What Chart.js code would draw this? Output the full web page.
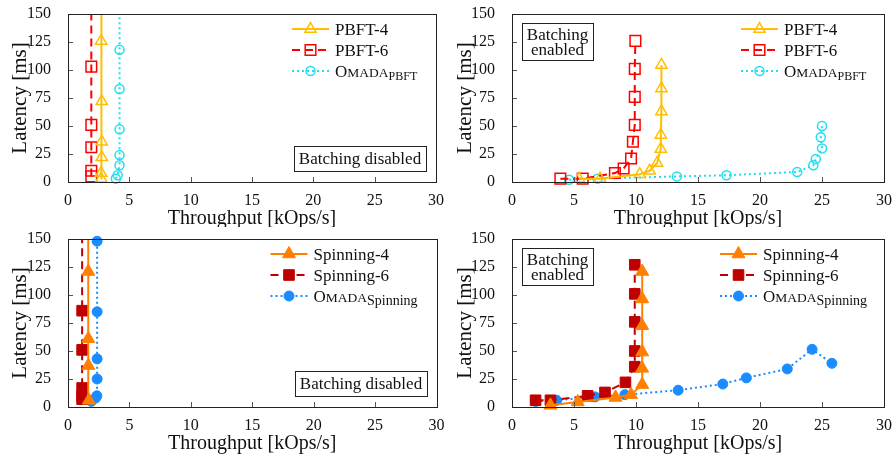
<!DOCTYPE html>
<html>
<head>
<meta charset="utf-8">
<script src="https://cdn.jsdelivr.net/npm/chart.js@4.4.1/dist/chart.umd.min.js"></script>
<style>
  html, body { margin: 0; padding: 0; background: #fff; }
  #wrap { position: relative; width: 895px; height: 455px; }
  .panel { position: absolute; }
</style>
</head>
<body>
<div id="wrap">
  <div class="panel" style="left:0;top:0;width:445px;height:227px"><canvas id="c1"></canvas></div>
  <div class="panel" style="left:445px;top:0;width:450px;height:227px"><canvas id="c2"></canvas></div>
  <div class="panel" style="left:0;top:227px;width:445px;height:228px"><canvas id="c3"></canvas></div>
  <div class="panel" style="left:445px;top:227px;width:450px;height:228px"><canvas id="c4"></canvas></div>
</div>
<script>
// ── DATA (throughput in kOps/s, latency in ms) ─────────────────────
const xTicks = [0, 5, 10, 15, 20, 25, 30];
const yTicks = [0, 25, 50, 75, 100, 125, 150];

// PBFT, batching disabled
const pbft4OffX  = [2.7, 2.7, 2.75, 2.75, 2.75, 2.7, 2.7];
const pbft4OffY  = [3, 8, 22, 36, 72, 126, 175];
const pbft6OffX  = [1.9, 1.9, 1.9, 1.9, 1.9, 1.9];
const pbft6OffY  = [5, 10, 31, 51, 103, 175];
const omadaPOffX = [3.9, 4.05, 4.2, 4.2, 4.2, 4.2, 4.2, 4.2];
const omadaPOffY = [3, 6, 15, 24, 47, 83, 118, 175];

// PBFT, batching enabled
const pbft4OnX  = [5.4, 7.1, 10.3, 11.1, 11.7, 12.0, 12.0, 12.05, 12.05, 12.05];
const pbft4OnY  = [3, 3, 7, 10, 17, 29.5, 42, 63, 83.5, 104.5];
const pbft6OnX  = [3.9, 5.7, 8.3, 9.0, 9.6, 9.75, 9.9, 9.9, 9.9, 9.95];
const pbft6OnY  = [3, 3, 8, 12, 21, 36, 51, 76, 101, 126];
const omadaPOnX = [4.6, 6.9, 13.3, 17.3, 23.0, 24.3, 24.5, 25.0, 24.9, 25.0];
const omadaPOnY = [2, 3, 5, 6, 9, 15, 20.5, 30, 40, 50];

// Spinning, batching disabled
const spin4OffX  = [1.7, 1.65, 1.65, 1.65, 1.65];
const spin4OffY  = [6, 37, 61, 121, 175];
const spin6OffX  = [1.15, 1.15, 1.15, 1.15, 1.15, 1.15];
const spin6OffY  = [7, 10, 17, 51, 86, 175];
const omadaSOffX = [1.9, 2.25, 2.35, 2.37, 2.37, 2.37, 2.37];
const omadaSOffY = [5, 8, 10, 25, 43, 85, 148];

// Spinning, batching enabled
const spin4OnX  = [3.1, 5.3, 8.35, 9.6, 10.5, 10.5, 10.5, 10.5, 10.5, 10.5];
const spin4OnY  = [1.5, 4.5, 8.5, 11, 20, 34.5, 49, 72.5, 96.5, 121];
const spin6OnX  = [1.9, 3.1, 6.1, 7.5, 9.15, 9.9, 9.9, 9.9, 9.9, 9.9];
const spin6OnY  = [6, 6, 10, 13, 22, 36, 50, 76, 101, 127];
const omadaSOnX = [1.9, 3.6, 6.7, 9.1, 13.4, 17.0, 18.9, 22.2, 24.2, 25.8];
const omadaSOnY = [5, 6, 9, 11, 15, 20.5, 26, 34, 51.5, 39];

// ── STYLES ─────────────────────────────────────────────────────────
const serif = '"Liberation Serif", "Times New Roman", serif';
const ink   = '#111';

const stPbft4  = { color: '#ffbf00', dash: [],     shape: 'triangle', r: 6.5, fill: false };
const stPbft6  = { color: '#ff0000', dash: [8, 5], shape: 'rect',     r: 7.5, fill: false };
const stOmadaP = { color: '#1ee0f0', dash: [2, 3], shape: 'circle',   r: 4.5, fill: false };
const stSpin4  = { color: '#ff8000', dash: [],     shape: 'triangle', r: 7.5, fill: true  };
const stSpin6  = { color: '#c00000', dash: [8, 5], shape: 'rect',     r: 7.5, fill: true  };
const stOmadaS = { color: '#1a8cff', dash: [2, 3], shape: 'circle',   r: 5,   fill: true  };

// ── DECORATION PLUGIN: frame, inner ticks, note box, legend ─────────
function drawLabel(ctx, it, x, base) {
  ctx.fillStyle = ink;
  ctx.textAlign = 'left';
  ctx.textBaseline = 'alphabetic';
  if (!it.sub) { ctx.font = `17px ${serif}`; ctx.fillText(it.text, x, base); return; }
  ctx.font = `17px ${serif}`;   ctx.fillText('O', x, base);    x += ctx.measureText('O').width;
  ctx.font = `13.5px ${serif}`; ctx.fillText('MADA', x, base); x += ctx.measureText('MADA').width;
  ctx.font = `${it.subSize}px ${serif}`; ctx.fillText(it.sub, x, base + 3);
}

const deco = {
  id: 'deco',
  afterDraw(chart, args, o) {
    const ctx = chart.ctx, a = chart.chartArea;
    const xs = chart.scales.x, ys = chart.scales.y;
    ctx.save();

    // inward tick marks
    ctx.strokeStyle = '#555';
    ctx.lineWidth = 1;
    ctx.beginPath();
    xTicks.slice(1, -1).forEach(v => {
      const px = Math.round(xs.getPixelForValue(v)) + 0.5;
      ctx.moveTo(px, a.bottom); ctx.lineTo(px, a.bottom - 5);
    });
    yTicks.slice(1, -1).forEach(v => {
      const py = Math.round(ys.getPixelForValue(v)) + 0.5;
      ctx.moveTo(a.left, py); ctx.lineTo(a.left + 5, py);
    });
    ctx.stroke();

    // frame around the plot
    ctx.strokeStyle = '#222';
    ctx.strokeRect(Math.round(a.left) + 0.5, Math.round(a.top) + 0.5,
                   Math.round(a.right - a.left), Math.round(a.bottom - a.top));

    // "Batching ..." note
    const n = o.note;
    ctx.font = `17px ${serif}`;
    const tw = Math.max(...n.lines.map(t => ctx.measureText(t).width));
    const bw = Math.round(tw + 10), bh = n.lines.length === 1 ? 25 : 37;
    let bx, by;
    if (n.corner === 'br') { bx = Math.round(a.right - 10 - bw); by = Math.round(a.bottom - 11 - bh); }
    else                   { bx = Math.round(a.left + 10);        by = Math.round(a.top + 9); }
    ctx.fillStyle = '#fff';
    ctx.fillRect(bx, by, bw, bh);
    ctx.strokeStyle = '#222';
    ctx.strokeRect(bx + 0.5, by + 0.5, bw, bh);
    ctx.fillStyle = ink;
    ctx.textAlign = 'center';
    ctx.textBaseline = 'alphabetic';
    n.lines.forEach((t, i) => {
      const base = n.lines.length === 1 ? by + 18 : by + 17 + i * 14.5;
      ctx.fillText(t, bx + bw / 2, base);
    });

    // legend
    const x0 = a.right - o.legendOffset;
    o.legend.forEach((it, i) => {
      const ds = chart.data.datasets[i];
      const y = a.top + 15 + i * 21;
      ctx.strokeStyle = ds.borderColor;
      ctx.lineWidth = 2;
      ctx.setLineDash(ds.borderDash);
      ctx.beginPath(); ctx.moveTo(x0, y); ctx.lineTo(x0 + 37, y); ctx.stroke();
      ctx.setLineDash([]);
      ctx.fillStyle = ds.pointBackgroundColor;
      ctx.lineWidth = ds.pointBorderWidth;
      Chart.helpers.drawPoint(ctx, {
        pointStyle: ds.pointStyle, radius: ds.pointRadius,
        borderWidth: ds.pointBorderWidth, rotation: 0
      }, x0 + 18.5, y);
      drawLabel(ctx, it, x0 + 43, y + 6);
    });

    ctx.restore();
  }
};

// ── CHART BUILDER ──────────────────────────────────────────────────
function series(xArr, yArr, st, topClip) {
  return {
    data: xArr.map((v, i) => ({ x: v, y: yArr[i] })),
    showLine: true,
    borderColor: st.color,
    borderWidth: 2,
    borderDash: st.dash,
    pointStyle: st.shape,
    pointRadius: st.r,
    pointHoverRadius: st.r,
    pointBorderWidth: st.fill ? 1 : 1.5,
    pointBorderColor: st.color,
    pointBackgroundColor: st.fill ? st.color : 'rgba(0,0,0,0)',
    backgroundColor: st.fill ? st.color : 'rgba(0,0,0,0)',
    clip: topClip ? { left: 10, right: 10, top: 0, bottom: 10 } : 10,
  };
}

function makeChart(id, datasets, geom, legend, note) {
  return new Chart(document.getElementById(id), {
    type: 'scatter',
    data: { datasets },
    options: {
      animation: false,
      responsive: true,
      maintainAspectRatio: false,
      events: [],
      layout: { padding: { left: 0, right: geom.pr, top: geom.pt, bottom: geom.pb } },
      plugins: {
        legend:  { display: false },
        tooltip: { enabled: false },
        deco:    { legend, note, legendOffset: geom.lo },
      },
      scales: {
        x: {
          type: 'linear', min: 0, max: 30,
          grid:   { display: false },
          border: { display: false },
          afterBuildTicks: s => { s.ticks = xTicks.map(v => ({ value: v })); },
          afterFit: s => { s.height = 45; s.paddingLeft = 0; s.paddingRight = 0; },
          ticks: { padding: 1, color: ink, maxRotation: 0, font: { family: serif, size: 16 } },
          title: { display: true, text: 'Throughput [kOps/s]', color: ink,
                   font: { family: serif, size: 20 }, padding: { top: 0, bottom: -4 } },
        },
        y: {
          type: 'linear', min: 0, max: 150,
          grid:   { display: false },
          border: { display: false },
          afterBuildTicks: s => { s.ticks = yTicks.map(v => ({ value: v })); },
          afterFit: s => { s.width = geom.yw; s.paddingTop = 0; s.paddingBottom = 0; },
          ticks: { padding: 9, color: ink, font: { family: serif, size: 16 } },
          title: { display: true, text: 'Latency [ms]', color: ink,
                   font: { family: serif, size: 21 }, padding: { top: 8, bottom: 0 } },
        },
      },
    },
    plugins: [deco],
  });
}

const legPbft = [
  { text: 'PBFT-4' },
  { text: 'PBFT-6' },
  { sub: 'PBFT', subSize: 12 },
];
const legSpin = [
  { text: 'Spinning-4' },
  { text: 'Spinning-6' },
  { sub: 'Spinning', subSize: 14 },
];
const noteOff = { lines: ['Batching disabled'], corner: 'br' };
const noteOn  = { lines: ['Batching', 'enabled'], corner: 'tl' };

makeChart('c1', [
  series(pbft4OffX,  pbft4OffY,  stPbft4,  true),
  series(pbft6OffX,  pbft6OffY,  stPbft6,  true),
  series(omadaPOffX, omadaPOffY, stOmadaP, true),
], { pr: 4, pt: 14, pb: 0, yw: 68, lo: 144 }, legPbft, noteOff);

makeChart('c2', [
  series(pbft4OnX,  pbft4OnY,  stPbft4),
  series(pbft6OnX,  pbft6OnY,  stPbft6),
  series(omadaPOnX, omadaPOnY, stOmadaP),
], { pr: 11, pt: 14, pb: 0, yw: 67, lo: 143 }, legPbft, noteOn);

makeChart('c3', [
  series(spin4OffX,  spin4OffY,  stSpin4,  true),
  series(spin6OffX,  spin6OffY,  stSpin6,  true),
  series(omadaSOffX, omadaSOffY, stOmadaS),
], { pr: 4, pt: 12, pb: 3, yw: 68, lo: 166 }, legSpin, noteOff);

makeChart('c4', [
  series(spin4OnX,  spin4OnY,  stSpin4),
  series(spin6OnX,  spin6OnY,  stSpin6),
  series(omadaSOnX, omadaSOnY, stOmadaS),
], { pr: 11, pt: 12, pb: 3, yw: 67, lo: 164 }, legSpin, noteOn);
</script>
</body>
</html>
